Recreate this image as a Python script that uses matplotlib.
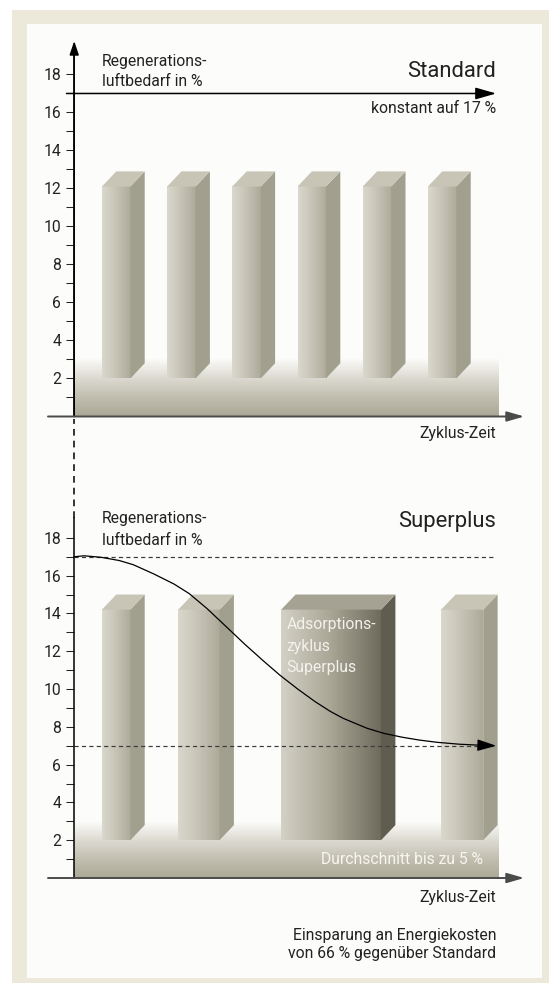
import numpy as np
import matplotlib
matplotlib.use("Agg")
import matplotlib.pyplot as plt
from matplotlib import font_manager as fm
from matplotlib.colors import LinearSegmentedColormap
from matplotlib.patches import Polygon, Rectangle

# --- data -------------------------------------------------------------
y_ticks = list(range(1, 19))
y_ticklabels = [str(v) if v % 2 == 0 else "" for v in y_ticks]

# Standard: six equal adsorption cycles, constant regeneration air 17 %
std_starts = [2.77, 9.29, 15.81, 22.33, 28.85, 35.37]
std_widths = [2.84, 2.84, 2.84, 2.84, 2.84, 2.84]
std_bottoms = [2.0, 2.0, 2.0, 2.0, 2.0, 2.0]
std_tops = [12.1, 12.1, 12.1, 12.1, 12.1, 12.1]
std_level = 17

# Superplus: variable cycles, demand drops from 17 % towards 7 %
sp_starts = [2.77, 10.4, 20.7, 36.7]
sp_widths = [2.84, 4.13, 9.98, 4.2]
sp_bottoms = [2.0, 2.0, 2.0, 2.0]
sp_tops = [14.2, 14.2, 14.2, 14.2]
sp_highlight = 2          # index of the long "Adsorptionszyklus Superplus"
sp_upper = 17
sp_lower = 7

curve_t = [0.0, 1.0, 2.7, 4.5, 5.9, 8.0, 10.0, 11.5, 13.3, 15.0, 17.1, 19.0,
           20.6, 22.4, 24.1, 25.6, 26.9, 29.3, 31.0, 32.8, 34.5, 36.3, 38.5,
           40.9, 42.2]
curve_v = [17.0, 17.05, 16.97, 16.8, 16.58, 16.08, 15.55, 15.05, 14.25, 13.4,
           12.35, 11.45, 10.72, 9.98, 9.33, 8.82, 8.45, 7.92, 7.65, 7.45, 7.3,
           7.18, 7.08, 7.02, 7.0]

# --- style ------------------------------------------------------------
def has_font(name):
    try:
        fm.findfont(fm.FontProperties(family=name), fallback_to_default=False)
        return True
    except ValueError:
        return False

FONT = "Roboto" if has_font("Roboto") else "Liberation Sans"
plt.rcParams["font.family"] = [FONT, "DejaVu Sans"]

TXT = "#222222"
SMALL = 11.3
BIG = 15.8
BEIGE = "#ECE9DA"
PANEL = "#FCFCFA"

front_cmap = LinearSegmentedColormap.from_list("front", ["#DAD8CD", "#C6C3B6", "#ADAA9A"])
dark_cmap = LinearSegmentedColormap.from_list("dark", ["#D3D1C5", "#A9A696", "#6E6B5D"])
band_cmap = LinearSegmentedColormap.from_list(
    "band", [(0.0, "#ACA897"), (0.35, "#C3C0B2"), (0.68, "#DEDCD3"), (1.0, PANEL)])
SIDE, TOP = "#A19F8D", "#C8C5B7"
SIDE_D, TOP_D = "#5F5D50", "#A5A293"
DX, DY = 1.44, 0.8

XLIM = (-7.42, 47.48)
X_AXIS = (-2.62, 45.0)
BAND_END = 42.4
T_END = 42.2


def arrow(ax, p0, p1, lw, color, hl, hw, z=5):
    ax.annotate("", xy=p1, xytext=p0, annotation_clip=False,
                arrowprops=dict(arrowstyle=f"-|>,head_length={hl},head_width={hw}",
                                lw=lw, color=color, shrinkA=0, shrinkB=0,
                                mutation_scale=1),
                zorder=z)


def prism(ax, x0, w, y0, y1, cmap, side, top):
    grad = np.linspace(0, 1, 128).reshape(1, -1)
    ax.imshow(grad, cmap=cmap, extent=(x0, x0 + w, y0, y1), origin="lower",
              aspect="auto", interpolation="bilinear", zorder=3)
    ax.add_patch(Polygon([(x0 + w, y0), (x0 + w + DX, y0 + DY), (x0 + w + DX, y1 + DY),
                          (x0 + w, y1)], closed=True, fc=side, ec="none", zorder=3))
    ax.add_patch(Polygon([(x0, y1), (x0 + DX, y1 + DY), (x0 + w + DX, y1 + DY),
                          (x0 + w, y1)], closed=True, fc=top, ec="none", zorder=3))


def base_band(ax, top):
    cols = band_cmap(np.linspace(0, 1, 256)).reshape(256, 1, 4)
    ax.imshow(cols, extent=(0, BAND_END, 0, top), origin="lower", aspect="auto",
              interpolation="bilinear", zorder=2)


def setup(ax, ylim, spine_top):
    ax.set_xlim(XLIM)
    ax.set_ylim(ylim)
    ax.patch.set_alpha(0)
    for s in ["top", "right", "bottom"]:
        ax.spines[s].set_visible(False)
    ax.spines["left"].set_position(("data", 0))
    ax.spines["left"].set_bounds(0, spine_top)
    ax.spines["left"].set_linewidth(1.1)
    ax.set_xticks([])
    ax.set_yticks(y_ticks, y_ticklabels)
    ax.tick_params(axis="y", direction="out", length=5.8, width=0.75, pad=3.7,
                   labelsize=SMALL, colors=TXT)


fig = plt.figure(figsize=(5.49, 9.83), dpi=100)

# frame
bg = fig.add_axes([0, 0, 1, 1], zorder=0)
bg.set_xlim(0, 549)
bg.set_ylim(983, 0)
bg.axis("off")
bg.add_patch(Rectangle((12, 10), 537, 973, fc=BEIGE, ec="none"))
bg.add_patch(Rectangle((27, 24), 515, 954, fc=PANEL, ec="none"))

# --- Standard ---------------------------------------------------------
ax1 = fig.add_axes([0, 1 - 470 / 983, 1, 470 / 983], zorder=1)
base_band(ax1, 3.0)
for x0, w, b, t in zip(std_starts, std_widths, std_bottoms, std_tops):
    prism(ax1, x0, w, b, t, front_cmap, SIDE, TOP)
setup(ax1, (-2.816, 21.92), 19.3)
arrow(ax1, (0, 0), (0, 19.76), 1.1, "black", 8.3, 2.8)
arrow(ax1, (X_AXIS[0], 0), (X_AXIS[1], 0), 1.4, "#4A4A4A", 10.4, 3.0)
arrow(ax1, (-0.77, std_level), (T_END, std_level), 1.1, "black", 12.6, 3.6)

ax1.text(2.73, 18.67, "Regenerations-", fontsize=SMALL, color=TXT, va="center")
ax1.text(2.73, 17.62, "luftbedarf in %", fontsize=SMALL, color=TXT, va="center")
ax1.text(T_END, 18.18, "Standard", fontsize=BIG, color=TXT, ha="right", va="center")
ax1.text(T_END, 16.22, f"konstant auf {std_level} %", fontsize=SMALL, color=TXT,
         ha="right", va="center")
ax1.text(T_END, -0.87, "Zyklus-Zeit", fontsize=SMALL, color=TXT, ha="right", va="center")

# --- Superplus --------------------------------------------------------
ax2 = fig.add_axes([0, 0, 1, 513 / 983], zorder=1)
base_band(ax2, 3.0)
for i, (x0, w, b, t) in enumerate(zip(sp_starts, sp_widths, sp_bottoms, sp_tops)):
    if i == sp_highlight:
        prism(ax2, x0, w, b, t, dark_cmap, SIDE_D, TOP_D)
    else:
        prism(ax2, x0, w, b, t, front_cmap, SIDE, TOP)
setup(ax2, (-5.556, 21.59), 19.05)
arrow(ax2, (X_AXIS[0], 0), (X_AXIS[1], 0), 1.4, "#4A4A4A", 10.4, 3.0)

# dashed link up to the Standard time axis
ax2.plot([0, 0], [19.05, 24.3], color="black", lw=1.1, ls=(0, (4.4, 3.3)),
         clip_on=False, zorder=4)

ax2.plot([0, T_END], [sp_upper, sp_upper], color="#3A3A3A", lw=0.86,
         ls=(0, (3.5, 2.7)), zorder=4)
ax2.plot([0, T_END], [sp_lower, sp_lower], color="#3A3A3A", lw=0.86,
         ls=(0, (3.5, 2.7)), zorder=4)

ax2.plot(curve_t[:-1], curve_v[:-1], color="black", lw=0.9, zorder=5,
         solid_joinstyle="round")
arrow(ax2, (curve_t[-2], curve_v[-2]), (curve_t[-1], curve_v[-1]), 0.9, "black",
      11.6, 3.6)

ax2.text(2.73, 19.03, "Regenerations-", fontsize=SMALL, color=TXT, va="center")
ax2.text(2.73, 17.88, "luftbedarf in %", fontsize=SMALL, color=TXT, va="center")
ax2.text(T_END, 18.89, "Superplus", fontsize=BIG, color=TXT, ha="right", va="center")

hx = sp_starts[sp_highlight] + 0.52
for y, s in zip([13.39, 12.24, 11.15], ["Adsorptions-", "zyklus", "Superplus"]):
    ax2.text(hx, y, s, fontsize=SMALL, color="#F3F2EC", va="center", zorder=6)

ax2.text(40.83, 0.99, "Durchschnitt bis zu 5 %", fontsize=SMALL, color="#F7F6F1",
         ha="right", va="center", zorder=6)
ax2.text(T_END, -1.01, "Zyklus-Zeit", fontsize=SMALL, color=TXT, ha="right", va="center")
ax2.text(T_END, -3.02, "Einsparung an Energiekosten", fontsize=SMALL, color=TXT,
         ha="right", va="center")
ax2.text(T_END, -3.97, "von 66 % gegenüber Standard", fontsize=SMALL, color=TXT,
         ha="right", va="center")

fig.savefig("out.png", dpi=100)
